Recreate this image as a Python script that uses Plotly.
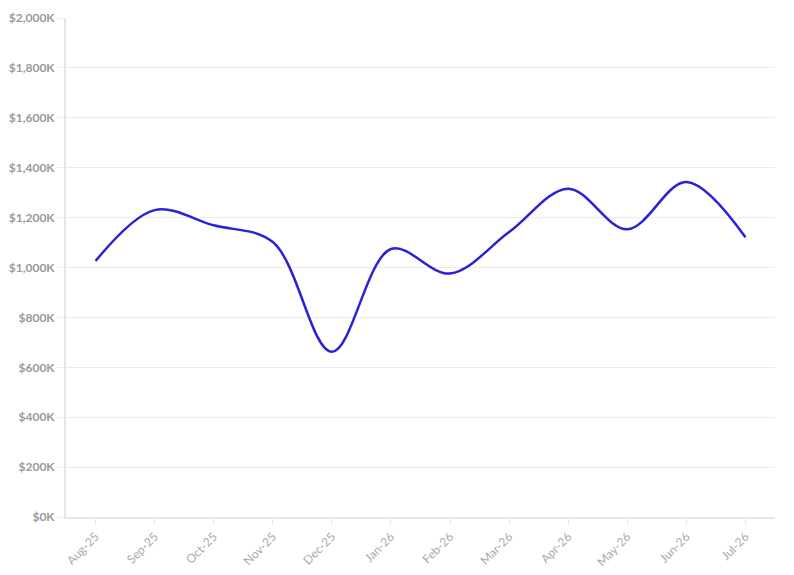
import plotly.graph_objects as go

# monthly values, in $K
months = ['Aug-25', 'Sep-25', 'Oct-25', 'Nov-25', 'Dec-25', 'Jan-26',
          'Feb-26', 'Mar-26', 'Apr-26', 'May-26', 'Jun-26', 'Jul-26']
values = [1026, 1230, 1169, 1102, 662, 1074, 976, 1142, 1316, 1153, 1343, 1121]

y_ticks = list(range(0, 2001, 200))
y_labels = ['${:,}K'.format(v) for v in y_ticks]

fig = go.Figure()
fig.add_trace(go.Scatter(
    x=months,
    y=values,
    mode='lines',
    line=dict(color='#2a22d4', width=2.5, shape='spline', smoothing=1),
    hoverinfo='x+y'
))

# page body has an 8px margin, so the figure is sized to fit inside it
fig.update_layout(
    width=786,
    height=567,
    paper_bgcolor='white',
    plot_bgcolor='white',
    margin=dict(l=58, r=19, t=10, b=58),
    showlegend=False,
    font=dict(family='Lato, sans-serif', size=12, color='#999999')
)

fig.update_xaxes(
    type='category',
    range=[-0.5, 11.5],
    automargin=False,
    tickangle=-45,
    showgrid=False,
    showline=True,
    linecolor='#e6e6e6',
    linewidth=2,
    ticks='outside',
    ticklen=6,
    tickcolor='#e6e6e6',
    tickfont=dict(family='Lato, sans-serif', size=12, color='#aaaaaa')
)

fig.update_yaxes(
    range=[0, 2000],
    automargin=False,
    tickvals=y_ticks,
    ticktext=y_labels,
    showgrid=True,
    gridcolor='#ebebeb',
    gridwidth=1,
    zeroline=False,
    showline=True,
    linecolor='#e6e6e6',
    linewidth=2,
    ticks='outside',
    ticklen=7,
    tickcolor='#ebebeb',
    tickfont=dict(family='Lato, sans-serif', size=12, color='#999999', weight='bold')
)

fig.write_html("out.html")
